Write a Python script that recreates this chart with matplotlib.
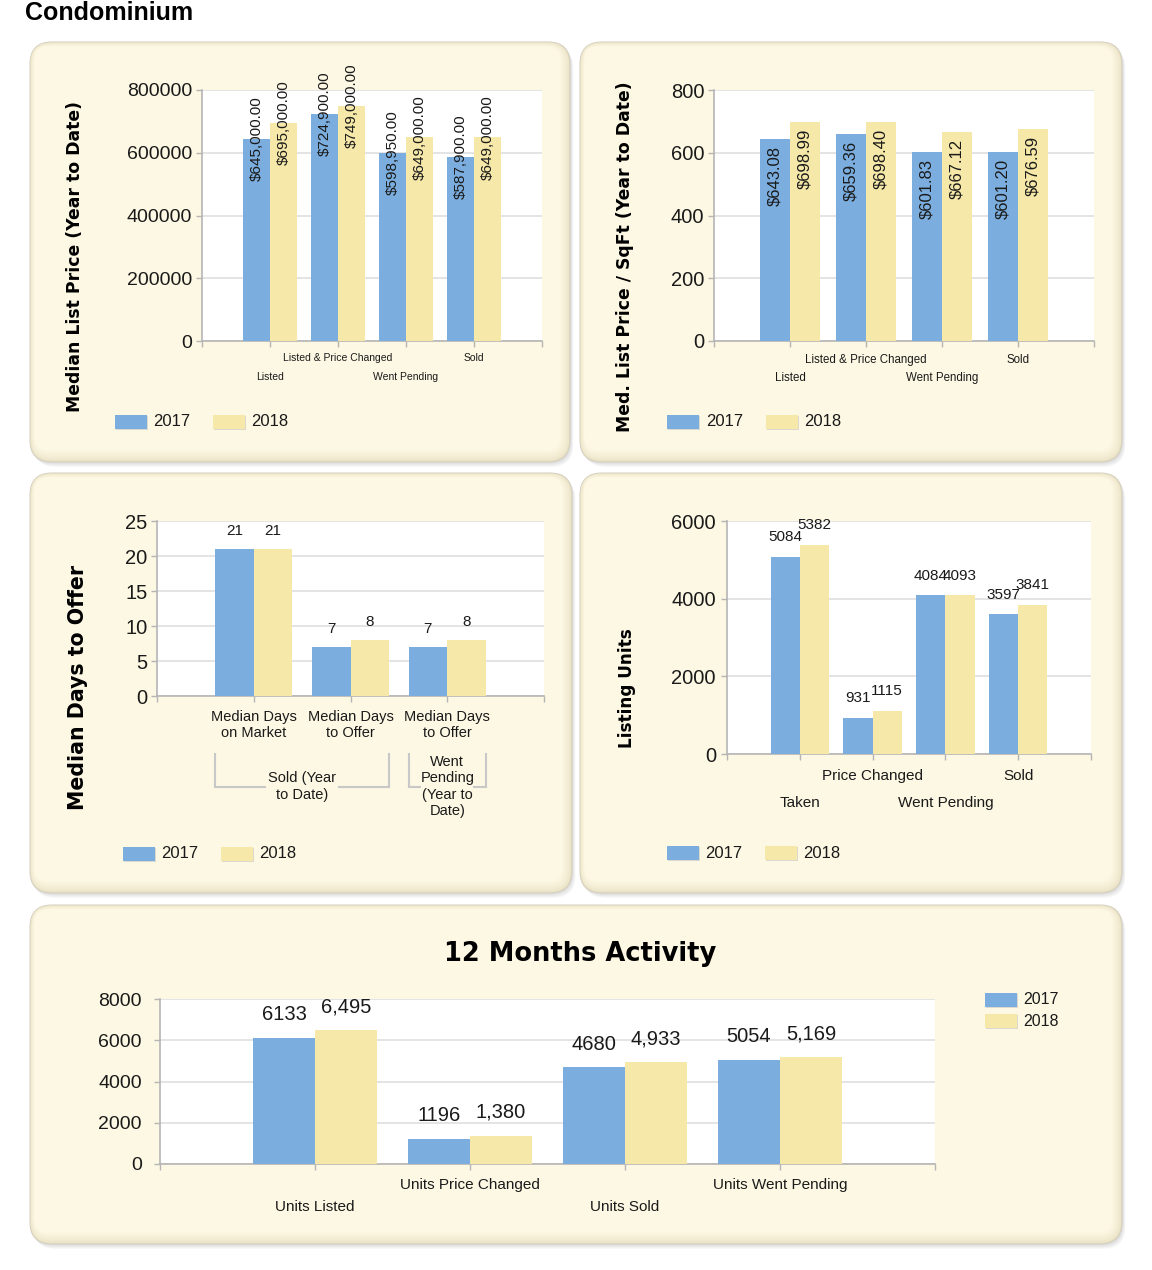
import matplotlib
matplotlib.use("Agg")
import matplotlib.pyplot as plt
from matplotlib.patches import FancyBboxPatch, Rectangle
from matplotlib.transforms import blended_transform_factory
import numpy as np

plt.rcParams['font.family'] = ['Liberation Sans', 'DejaVu Sans']

# ---------------- data ----------------
years = ["2017", "2018"]

cats1 = ["Listed", "Listed & Price Changed", "Went Pending", "Sold"]
price17 = [645000, 724900, 598950, 587900]
price18 = [695000, 749000, 649000, 649000]

cats2 = ["Listed", "Listed & Price Changed", "Went Pending", "Sold"]
sqft17 = [643.08, 659.36, 601.83, 601.20]
sqft18 = [698.99, 698.40, 667.12, 676.59]

cats3 = ["Median Days\non Market", "Median Days\nto Offer", "Median Days\nto Offer"]
days17 = [21, 7, 7]
days18 = [21, 8, 8]
groups3 = ["Sold (Year\nto Date)", "Went\nPending\n(Year to\nDate)"]

cats4 = ["Taken", "Price Changed", "Went Pending", "Sold"]
units17 = [5084, 931, 4084, 3597]
units18 = [5382, 1115, 4093, 3841]

cats5 = ["Units Listed", "Units Price Changed", "Units Sold", "Units Went Pending"]
act17 = [6133, 1196, 4680, 5054]
act18 = [6495, 1380, 4933, 5169]

BLUE = '#7BAEDE'
YELLOW = '#F5E8A8'
GRID = '#DCDCDC'
SPINE = '#B5B5B5'
TXT = '#1a1a1a'

W, H = 1152, 1270
fig = plt.figure(figsize=(W / 100, H / 100), dpi=100)
fig.patch.set_facecolor('white')

bg = fig.add_axes([0, 0, 1, 1])
bg.set_xlim(0, W)
bg.set_ylim(H, 0)
bg.axis('off')


def mix(c1, c2, t):
    a = np.array(matplotlib.colors.to_rgb(c1))
    b = np.array(matplotlib.colors.to_rgb(c2))
    return tuple(a + (b - a) * t)


def panel(x0, y0, x1, y1, r=22):
    w, h = x1 - x0, y1 - y0
    for k in range(7, 0, -1):
        bg.add_patch(FancyBboxPatch((x0 + k * 0.5, y0 + k * 0.7), w, h,
                                    boxstyle=f"round,pad=0,rounding_size={r}",
                                    fc='#707070', ec='none', alpha=0.035))
    bg.add_patch(FancyBboxPatch((x0, y0), w, h, boxstyle=f"round,pad=0,rounding_size={r}",
                                fc='#E6DEC0', ec='#D6D1C2', lw=0.8))
    n = 9
    for k in range(1, n + 1):
        t = k / n
        l, tp = k * 0.5, k * 0.5
        rr, bb = k * 1.1, k * 1.3
        bg.add_patch(FancyBboxPatch((x0 + l, y0 + tp), w - l - rr, h - tp - bb,
                                    boxstyle=f"round,pad=0,rounding_size={max(r - k, 4)}",
                                    fc=mix('#E9E1C4', '#FDF8E3', t ** 0.7), ec='none'))


def axpx(x0, y0, x1, y1):
    ax = fig.add_axes([x0 / W, 1 - y1 / H, (x1 - x0) / W, (y1 - y0) / H])
    ax.set_facecolor('white')
    for s in ['top', 'right']:
        ax.spines[s].set_visible(False)
    for s in ['left', 'bottom']:
        ax.spines[s].set_color(SPINE)
        ax.spines[s].set_linewidth(1.2)
    ax.grid(axis='y', color=GRID, lw=1.1)
    ax.set_axisbelow(True)
    return ax


def bars(ax, v17, v18, width=0.4):
    x = np.arange(len(v17))
    ax.bar(x - width / 2, v17, width, color=BLUE, zorder=3, lw=0)
    ax.bar(x + width / 2, v18, width, color=YELLOW, zorder=3, lw=0)
    ax.set_xlim(-1, len(v17))
    ax.set_xticks(np.arange(-1, len(v17) + 1))
    ax.set_xticklabels([])
    ax.tick_params(axis='x', length=4, color=SPINE, width=1)
    return x


def yaxis(ax, lim, ticks, size, pad, length=4):
    ax.set_ylim(*lim)
    ax.set_yticks(ticks)
    ax.set_yticklabels([str(t) for t in ticks])
    ax.tick_params(axis='y', labelsize=size, colors=SPINE, labelcolor=TXT,
                   length=length, pad=pad, width=1)


def catlabels(ax, cats, rows, size, stagger=True):
    tr = blended_transform_factory(ax.transData, bg.transData)
    for i, c in enumerate(cats):
        y = rows[0] if (i % 2 == 1 or not stagger) else rows[1]
        ax.text(i, y, c, transform=tr, ha='center', va='center', fontsize=size, color=TXT)


def legend_row(items, y, size=12):
    for (xp, xt, col, lab) in items:
        bg.add_patch(Rectangle((xp + 1, y - 6), 32, 14, fc='#BBBBBB', ec='none', alpha=0.5))
        bg.add_patch(Rectangle((xp, y - 7), 32, 14, fc=col, ec='none'))
        bg.text(xt, y, lab, ha='left', va='center', fontsize=size, color=TXT)


def ylabel(x, y, s, size):
    bg.text(x, y, s, rotation=90, ha='center', va='center', fontsize=size,
            fontweight='bold', family='DejaVu Sans', color='black')


# ---------------- panels ----------------
panel(30, 42, 570, 462)
panel(580, 42, 1122, 462)
panel(30, 473, 572, 893)
panel(580, 473, 1122, 893)
panel(30, 905, 1122, 1244)

bg.text(25, 13, "Condominium", ha='left', va='center', fontsize=18, fontweight='bold', color='black')

# ---------------- chart 1 ----------------
ax1 = axpx(202, 90, 542, 341)
x = bars(ax1, price17, price18)
yaxis(ax1, (0, 800000), [0, 200000, 400000, 600000, 800000], 14, 3)
for i in range(len(x)):
    ax1.text(x[i] - 0.2, price17[i], "${:,.2f}".format(price17[i]), rotation=90,
             ha='center', va='center', fontsize=11, color=TXT, zorder=5)
    ax1.text(x[i] + 0.2, price18[i], "${:,.2f}".format(price18[i]), rotation=90,
             ha='center', va='center', fontsize=11, color=TXT, zorder=5)
catlabels(ax1, cats1, (358, 377), 7.5)
ylabel(75, 257, "Median List Price (Year to Date)", 12.4)
legend_row([(115, 153, BLUE, years[0]), (213, 251, YELLOW, years[1])], 422)

# ---------------- chart 2 ----------------
ax2 = axpx(714, 90, 1094, 341)
x = bars(ax2, sqft17, sqft18)
yaxis(ax2, (0, 800), [0, 200, 400, 600, 800], 14.5, 3)
for i in range(len(x)):
    ax2.annotate("${:.2f}".format(sqft17[i]), (x[i] - 0.2, sqft17[i]), xytext=(0, -5),
                 textcoords='offset points', rotation=90, ha='center', va='top',
                 fontsize=12, color=TXT, zorder=5)
    ax2.annotate("${:.2f}".format(sqft18[i]), (x[i] + 0.2, sqft18[i]), xytext=(0, -5),
                 textcoords='offset points', rotation=90, ha='center', va='top',
                 fontsize=12, color=TXT, zorder=5)
catlabels(ax2, cats2, (360, 378), 8.3)
ylabel(625, 257, "Med. List Price / SqFt (Year to Date)", 12.4)
legend_row([(667, 706, BLUE, years[0]), (766, 804, YELLOW, years[1])], 422)

# ---------------- chart 3 ----------------
ax3 = axpx(157, 521, 544, 696)
x = bars(ax3, days17, days18)
yaxis(ax3, (0, 25), [0, 5, 10, 15, 20, 25], 14.5, 3)
for i in range(len(x)):
    ax3.annotate(str(days17[i]), (x[i] - 0.2, days17[i]), xytext=(0, 8),
                 textcoords='offset points', ha='center', va='bottom', fontsize=11, color=TXT)
    ax3.annotate(str(days18[i]), (x[i] + 0.2, days18[i]), xytext=(0, 8),
                 textcoords='offset points', ha='center', va='bottom', fontsize=11, color=TXT)
tr3 = blended_transform_factory(ax3.transData, bg.transData)
for i, c in enumerate(cats3):
    ax3.text(x[i], 725, c, transform=tr3, ha='center', va='center', fontsize=10.5,
             color=TXT, linespacing=1.1)
# group brackets
BR = '#C8C8C8'
spans = [(-0.4, 1.4), (1.6, 2.4)]
gaps = [(0.12, 0.88), (1.72, 2.28)]
for (a, b), (ga, gb), g in zip(spans, gaps, groups3):
    ax3.plot([a, a], [753, 787], transform=tr3, color=BR, lw=1.5, clip_on=False,
             solid_capstyle='butt')
    ax3.plot([b, b], [753, 787], transform=tr3, color=BR, lw=1.5, clip_on=False,
             solid_capstyle='butt')
    ax3.plot([a, ga], [787, 787], transform=tr3, color=BR, lw=1.5, clip_on=False)
    ax3.plot([gb, b], [787, 787], transform=tr3, color=BR, lw=1.5, clip_on=False)
    ax3.text((a + b) / 2, 786.5, g, transform=tr3, ha='center', va='center',
             fontsize=10.5, color=TXT, linespacing=1.22)
ylabel(78, 688, "Median Days to Offer", 14.8)
legend_row([(123, 161, BLUE, years[0]), (221, 259, YELLOW, years[1])], 854)

# ---------------- chart 4 ----------------
ax4 = axpx(727, 521, 1091, 754)
x = bars(ax4, units17, units18)
yaxis(ax4, (0, 6000), [0, 2000, 4000, 6000], 14.5, 4)
for i in range(len(x)):
    ax4.annotate(str(units17[i]), (x[i] - 0.2, units17[i]), xytext=(0, 9),
                 textcoords='offset points', ha='center', va='bottom', fontsize=11, color=TXT)
    ax4.annotate(str(units18[i]), (x[i] + 0.2, units18[i]), xytext=(0, 9),
                 textcoords='offset points', ha='center', va='bottom', fontsize=11, color=TXT)
catlabels(ax4, cats4, (776, 803), 11)
ylabel(627, 688, "Listing Units", 12.2)
legend_row([(667, 705, BLUE, years[0]), (765, 803, YELLOW, years[1])], 853)

# ---------------- chart 5 ----------------
ax5 = axpx(160, 999, 935, 1164)
x = bars(ax5, act17, act18)
yaxis(ax5, (0, 8000), [0, 2000, 4000, 6000, 8000], 14, 9)
for i in range(len(x)):
    ax5.annotate("{:d}".format(act17[i]), (x[i] - 0.2, act17[i]), xytext=(0, 10),
                 textcoords='offset points', ha='center', va='bottom', fontsize=14.5, color=TXT)
    ax5.annotate("{:,}".format(act18[i]), (x[i] + 0.2, act18[i]), xytext=(0, 10),
                 textcoords='offset points', ha='center', va='bottom', fontsize=14.5, color=TXT)
catlabels(ax5, cats5, (1185, 1207), 11)
bg.text(580, 954, "12 Months Activity", ha='center', va='center', fontsize=18.5,
        fontweight='bold', family='DejaVu Sans', color='black')
for (yy, col, lab) in [(1000, BLUE, years[0]), (1021, YELLOW, years[1])]:
    bg.add_patch(Rectangle((986, yy - 6), 32, 14, fc='#BBBBBB', ec='none', alpha=0.5))
    bg.add_patch(Rectangle((985, yy - 7), 32, 14, fc=col, ec='none'))
    bg.text(1023, yy, lab, ha='left', va='center', fontsize=11.5, color=TXT)

fig.savefig("out.png", dpi=100, facecolor='white')
